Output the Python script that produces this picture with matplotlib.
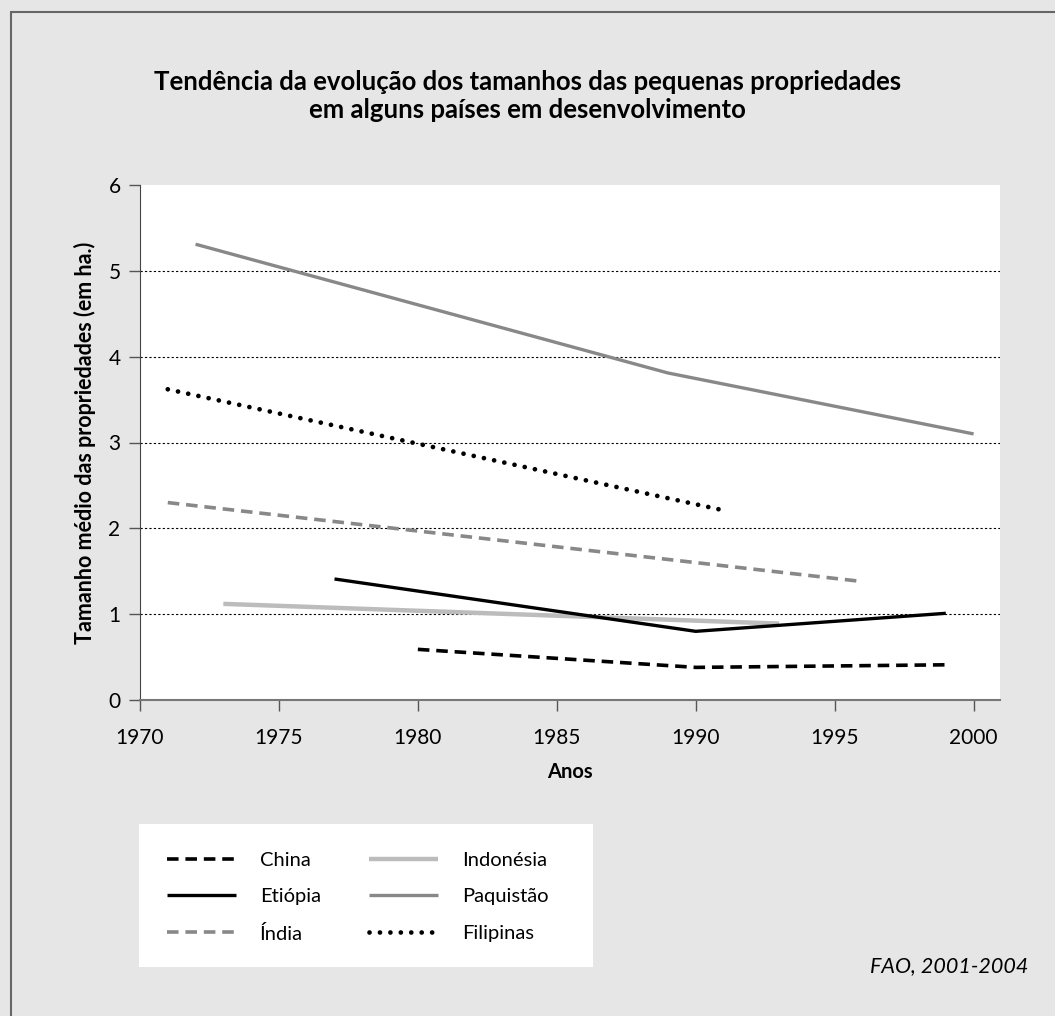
import matplotlib
matplotlib.use('Agg')
import matplotlib.pyplot as plt
from matplotlib.patches import Rectangle

plt.rcParams['font.family'] = ['Lato', 'DejaVu Sans']

# Dados (tamanho médio das propriedades, em ha)
china_anos = [1980, 1990, 1999]
china_vals = [0.59, 0.38, 0.41]

etiopia_anos = [1977, 1990, 1999]
etiopia_vals = [1.41, 0.80, 1.01]

india_anos = [1971, 1996]
india_vals = [2.30, 1.38]

indonesia_anos = [1973, 1993]
indonesia_vals = [1.12, 0.89]

paquistao_anos = [1972, 1989, 2000]
paquistao_vals = [5.31, 3.81, 3.10]

filipinas_anos = [1971, 1991]
filipinas_vals = [3.62, 2.21]

x_ticks = [1970, 1975, 1980, 1985, 1990, 1995, 2000]
y_ticks = [0, 1, 2, 3, 4, 5, 6]

bg = '#e6e6e6'
fig = plt.figure(figsize=(10.55, 10.16), dpi=100)
fig.patch.set_facecolor(bg)

# moldura cinza
fig.patches.append(Rectangle((11 / 1055, -0.05), 1.2, 1 - 12 / 1016 + 0.05,
                             transform=fig.transFigure, fill=False,
                             edgecolor='#666666', linewidth=1.5))

ax = fig.add_axes([140 / 1055, 1 - 700 / 1016, 860 / 1055, 515 / 1016])
ax.set_facecolor('white')

ax.plot(indonesia_anos, indonesia_vals, color='#bcbcbc', lw=3.2,
        solid_capstyle='butt', label='Indonésia')
ax.plot(paquistao_anos, paquistao_vals, color='#888888', lw=2.4,
        solid_capstyle='butt', label='Paquistão')
ax.plot(india_anos, india_vals, color='#888888', lw=2.6,
        linestyle=(0, (3.2, 1.9)), dash_capstyle='butt', label='Índia')
ax.plot(etiopia_anos, etiopia_vals, color='black', lw=2.4,
        solid_capstyle='butt', label='Etiópia')
ax.plot(china_anos, china_vals, color='black', lw=2.6,
        linestyle=(0, (3.2, 1.9)), dash_capstyle='butt', label='China')
ax.plot(filipinas_anos, filipinas_vals, color='black', lw=3.4,
        linestyle=(0, (0.01, 2.2)), dash_capstyle='round', label='Filipinas')

ax.set_xlim(1970, 2000.95)
ax.set_ylim(0, 6)
ax.set_xticks(x_ticks)
ax.set_yticks(y_ticks)
ax.tick_params(axis='both', direction='out', length=8, width=1,
               color='#555555', labelsize=15, pad=6)
ax.tick_params(axis='x', pad=12)

for y in y_ticks[1:-1]:
    ax.axhline(y, color='black', lw=0.8, linestyle=(0, (2, 2)), zorder=0)

ax.spines['top'].set_visible(False)
ax.spines['right'].set_visible(False)
ax.spines['left'].set_color('#444444')
ax.spines['bottom'].set_color('#777777')
ax.spines['bottom'].set_linewidth(1.5)

ax.set_xlabel('Anos', fontsize=14.5, fontweight='bold', labelpad=10)
ax.set_ylabel('Tamanho médio das propriedades (em ha.)', fontsize=15.5,
              fontweight='bold', labelpad=9)

fig.text(0.5, 1 - 82 / 1016, 'Tendência da evolução dos tamanhos das pequenas propriedades',
         ha='center', va='center', fontsize=18.5, fontweight='bold')
fig.text(0.5, 1 - 110 / 1016, 'em alguns países em desenvolvimento',
         ha='center', va='center', fontsize=18.5, fontweight='bold')

# legenda
fig.patches.append(Rectangle((139 / 1055, 1 - 967 / 1016), 454 / 1055, 143 / 1016,
                             transform=fig.transFigure, facecolor='white',
                             edgecolor='none', zorder=0))
handles, labels = ax.get_legend_handles_labels()
ordem = ['China', 'Etiópia', 'Índia', 'Indonésia', 'Paquistão', 'Filipinas']
hmap = dict(zip(labels, handles))
leg = fig.legend([hmap[k] for k in ordem], ordem, ncol=2, frameon=False,
                 loc='upper left', bbox_to_anchor=(157 / 1055, 1 - 842 / 1016),
                 borderpad=0, fontsize=14.5, handlelength=3.4, handletextpad=1.2,
                 columnspacing=2.4, labelspacing=0.95)

fig.text(1028 / 1055, 1 - 966 / 1016, 'FAO, 2001-2004', ha='right', va='center',
         fontsize=15.5, style='italic')

plt.savefig('out.png', dpi=100, facecolor=bg)
